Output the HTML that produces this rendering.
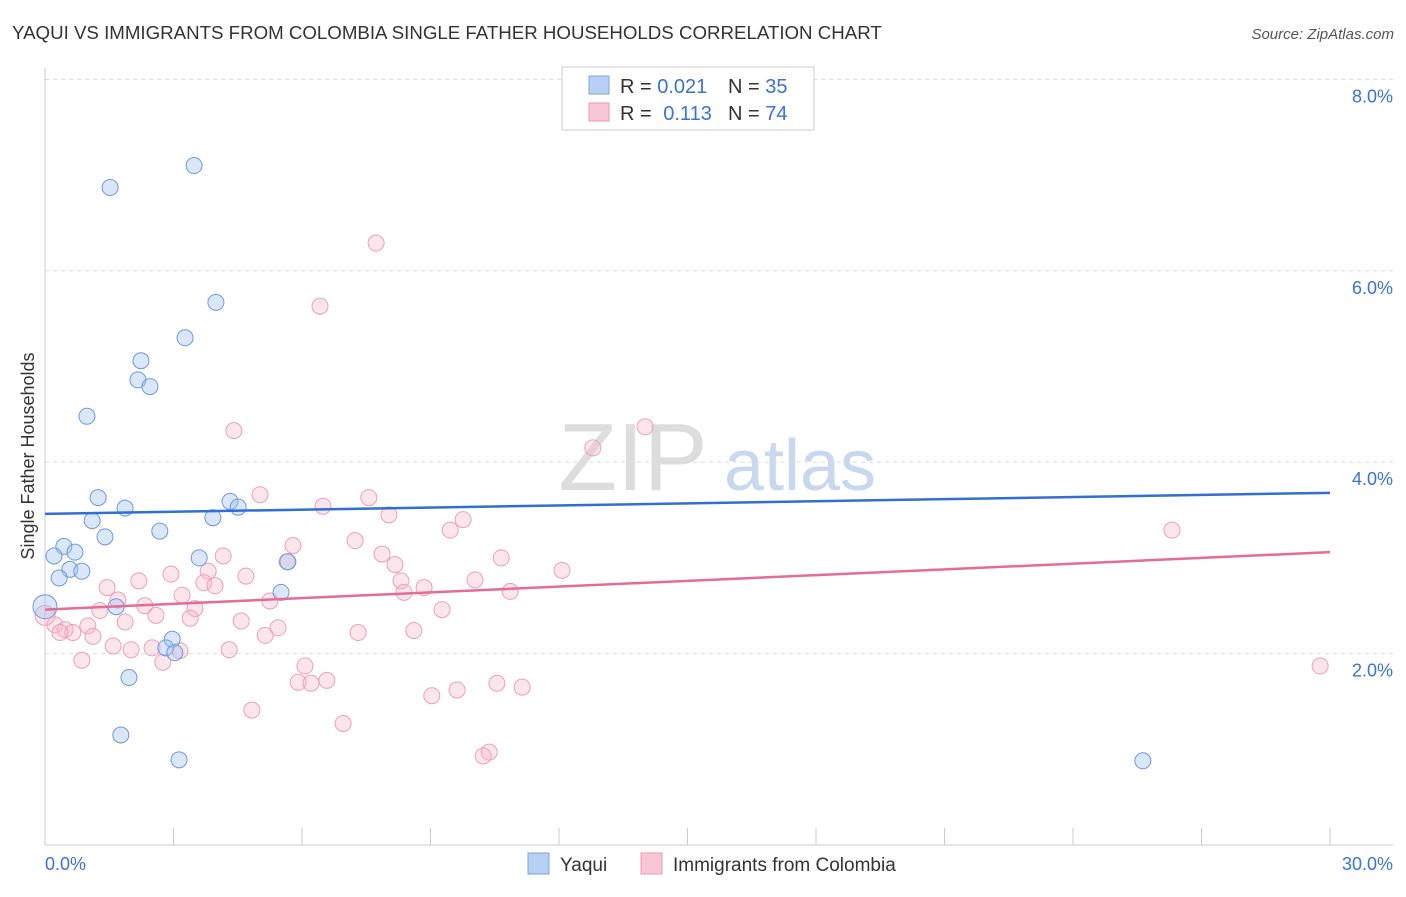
<!DOCTYPE html>
<html><head><meta charset="utf-8"><style>
body{margin:0;background:#fff;font-family:"Liberation Sans",sans-serif;}
svg text{font-family:"Liberation Sans",sans-serif;}
</style></head><body>
<svg id="chart" width="1406" height="892" xmlns="http://www.w3.org/2000/svg">
<text x="12" y="39" font-size="18.7" fill="#333">YAQUI VS IMMIGRANTS FROM COLOMBIA SINGLE FATHER HOUSEHOLDS CORRELATION CHART</text>
<text x="1394" y="39" font-size="15" fill="#555" font-style="italic" text-anchor="end">Source: ZipAtlas.com</text>
<text x="633" y="490" font-size="96" fill="#ddd" font-family="Liberation Serif" text-anchor="middle">ZIP</text>
<text x="800" y="490" font-size="72" fill="#c8d8ee" text-anchor="middle">atlas</text>
<text transform="translate(34,456) rotate(-90)" font-size="18" fill="#333" text-anchor="middle">Single Father Households</text>
<g id="grid"></g><g id="axes"></g><g id="marks"></g>
<g>
<rect x="562" y="67" width="252" height="63" fill="#fff" stroke="#ccc"/>
<rect x="589" y="76" width="20" height="18" fill="#b7d0f5" stroke="#7ea6e0"/>
<rect x="589" y="103" width="20" height="18" fill="#fac6d6" stroke="#e89ab5"/>
<text x="620" y="93" font-size="20" fill="#333">R = <tspan fill="#3b72d6">0.021</tspan></text>
<text x="728" y="93" font-size="20" fill="#333">N = <tspan fill="#3b72d6">35</tspan></text>
<text x="620" y="120" font-size="20" fill="#333">R = <tspan fill="#3b72d6" dx="6">0.113</tspan></text>
<text x="728" y="120" font-size="20" fill="#333">N = <tspan fill="#3b72d6">74</tspan></text>
</g>
<g>
<rect x="528" y="853" width="21" height="21" fill="#b7d0f5" stroke="#7ea6e0"/>
<text x="560" y="871" font-size="19" fill="#333">Yaqui</text>
<rect x="641" y="853" width="21" height="21" fill="#fac6d6" stroke="#e89ab5"/>
<text x="673" y="871" font-size="19" fill="#333">Immigrants from Colombia</text>
</g>
</svg>
<script>
const yaquiX=[1.52,3.48,15.67,3.99,3.27,2.24,2.17,2.45,0.98,1.24,1.87,4.32,4.51,1.10,3.92,2.68,1.40,0.44,0.70,0.21,3.60,5.67,0.58,0.86,0.33,5.51,1.66,0.00,2.97,2.82,3.03,1.96,1.77,3.13,25.63];
const yaquiY=[6.87,7.10,7.97,5.67,5.30,5.06,4.86,4.79,4.48,3.63,3.52,3.59,3.53,3.39,3.42,3.28,3.22,3.12,3.06,3.02,3.00,2.96,2.88,2.86,2.79,2.64,2.49,2.49,2.15,2.06,2.01,1.75,1.15,0.89,0.88];
const colX=[7.73,6.42,4.41,14.01,12.79,5.02,7.56,6.49,8.03,9.76,9.46,26.31,7.24,5.79,4.16,7.87,10.65,8.17,5.65,12.07,2.94,3.81,4.69,2.19,8.31,10.04,3.71,8.85,3.97,1.45,8.38,10.86,3.20,1.70,5.25,2.33,1.28,3.50,9.27,2.59,3.39,1.87,4.58,1.00,5.44,0.23,0.47,0.65,5.14,7.31,8.61,1.12,0.35,1.59,2.01,2.50,3.15,4.30,2.75,0.86,6.07,5.91,6.58,6.21,9.62,10.55,11.14,9.03,4.83,6.96,10.37,10.23,29.77,0.00];
const colY=[6.29,5.63,4.33,4.37,4.15,3.66,3.63,3.54,3.45,3.40,3.29,3.29,3.18,3.13,3.02,3.04,3.00,2.93,2.96,2.87,2.83,2.86,2.81,2.76,2.76,2.77,2.74,2.69,2.71,2.69,2.64,2.65,2.61,2.56,2.55,2.50,2.45,2.47,2.46,2.40,2.37,2.33,2.34,2.29,2.27,2.30,2.25,2.22,2.19,2.22,2.24,2.18,2.22,2.08,2.04,2.06,2.03,2.04,1.91,1.93,1.87,1.70,1.72,1.69,1.62,1.69,1.65,1.56,1.41,1.27,0.97,0.93,1.87,2.40];
const yTicks=[2,4,6,8];
const yTickLabels=["2.0%","4.0%","6.0%","8.0%"];
const xTicks=[0,3,6,9,12,15,18,21,24,27,30];
const xEndLabels=["0.0%","30.0%"];
const yaquiTrend=[3.46,3.68];
const colTrend=[2.46,3.06];
const NS="http://www.w3.org/2000/svg";
const X=v=>45+v*(1285/30), Y=v=>845-v*95.7;
function mk(tag,attrs,parent){const e=document.createElementNS(NS,tag);for(const k in attrs)e.setAttribute(k,attrs[k]);parent.appendChild(e);return e;}
const grid=document.getElementById('grid'),axes=document.getElementById('axes'),marks=document.getElementById('marks');
yTicks.forEach((t,i)=>{
  const l=mk('line',{x1:45,x2:1393,y1:Y(t),y2:Y(t),stroke:'#ddd','stroke-dasharray':'4,4'},grid);
  
  
  const tx=mk('text',{x:1393,y:Y(t)+23,'font-size':18,fill:'#3b72d6','text-anchor':'end'},grid);
  tx.textContent=yTickLabels[i];
  
  
});
const xl=mk('line',{x1:45,x2:1393,y1:845,y2:845,stroke:'#ccc'},axes);


const yl=mk('line',{x1:45,x2:45,y1:68,y2:845,stroke:'#ccc'},axes);


xTicks.forEach(t=>{
  const l=mk('line',{x1:X(t),x2:X(t),y1:828,y2:845,stroke:'#ccc'},axes);
  
  
});
const xa=mk('text',{x:45,y:870,'font-size':18,fill:'#3b72d6'},axes);xa.textContent=xEndLabels[0];


const xb=mk('text',{x:1393,y:870,'font-size':18,fill:'#3b72d6','text-anchor':'end'},axes);xb.textContent=xEndLabels[1];


colX.forEach((x,i)=>{
  const c=mk('circle',{cx:X(x),cy:Y(colY[i]),r:x===0?10:8,fill:'rgba(248,180,200,0.35)',stroke:'#eda0b8','stroke-width':1},marks);
  
  
});
yaquiX.forEach((x,i)=>{
  const c=mk('circle',{cx:X(x),cy:Y(yaquiY[i]),r:x===0?12:8,fill:'rgba(160,195,240,0.4)',stroke:'#6f9ad8','stroke-width':1},marks);
  
  
});
const t1=mk('line',{x1:X(0),x2:X(30),y1:Y(yaquiTrend[0]),y2:Y(yaquiTrend[1]),stroke:'#2f6fd6','stroke-width':2.5},marks);


const t2=mk('line',{x1:X(0),x2:X(30),y1:Y(colTrend[0]),y2:Y(colTrend[1]),stroke:'#e56b98','stroke-width':2.5},marks);


</script>
</body></html>
